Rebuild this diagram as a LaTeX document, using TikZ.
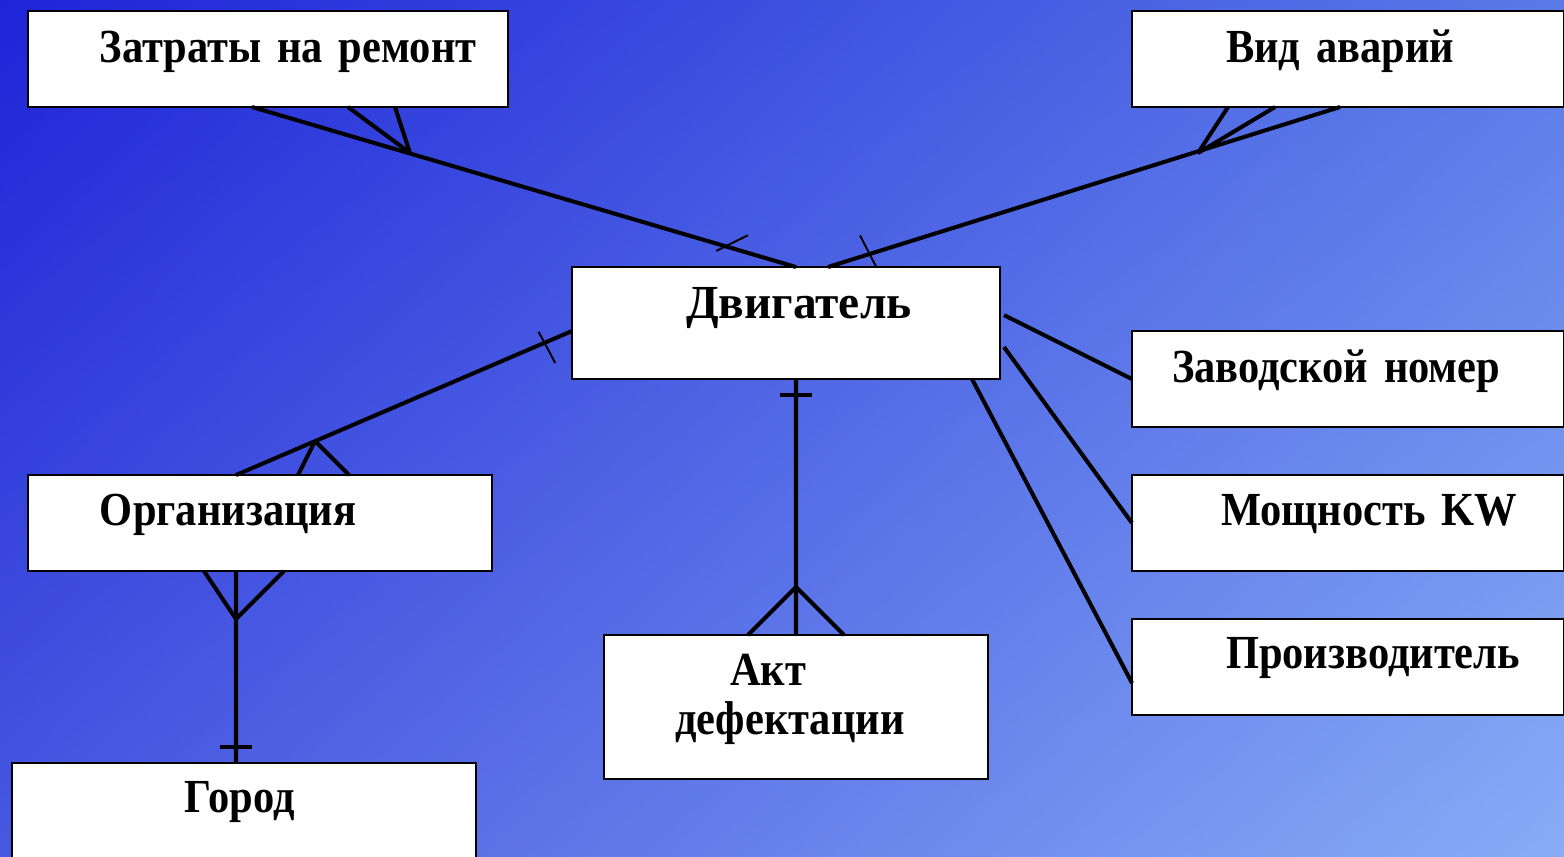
\documentclass[tikz,border=0pt]{standalone}
\usepackage{fontspec}
\setmainfont{Liberation Serif}[FakeStretch=0.895, WordSpace=0.6]
\newfontfamily\widefont{Liberation Serif}[FakeStretch=1.0]
\usetikzlibrary{decorations.markings,shadings}

\definecolor{bgTL}{RGB}{30,36,216}
\definecolor{bgTR}{RGB}{90,122,232}
\definecolor{bgBL}{RGB}{72,88,224}
\definecolor{bgBR}{RGB}{136,172,246}

\begin{document}
\begin{tikzpicture}[
    entity/.style={draw, fill=white, line width=0.65pt, inner sep=0pt, outer sep=0pt,
      anchor=north west, font=\bfseries\fontsize{13.5}{14.2}\selectfont},
    link/.style={line width=1.15pt},
    crossmark/.style n args={5}{postaction={decorate, decoration={markings,
      mark=at position #1 with {\draw[line width=0.55pt] (#2,#3) -- (#4,#5);}}}},
    onebar/.style={postaction={decorate, decoration={markings,
      mark=at position #1 with {\draw (0,-0.16) -- (0,0.16);}}}},
  ]
  \shade[upper left=bgTL, upper right=bgTR, lower left=bgBL, lower right=bgBR]
    (0,0) rectangle (15.64,-8.56);
  \useasboundingbox (0,0) rectangle (15.64,-8.56);

  % entities
  \node[entity, text width=4.80cm, text height=0.51cm, text depth=0.45cm] (zatr) at (0.28,-0.11)
    {\hspace*{0.72cm}Затраты на ремонт};
  \node[entity, text width=4.32cm, text height=0.51cm, text depth=0.45cm] (vid) at (11.32,-0.11)
    {\hspace*{0.94cm}Вид аварий};
  \node[entity, text width=4.28cm, text height=0.51cm, text depth=0.61cm] (dvig) at (5.72,-2.67)
    {\hspace*{1.14cm}\widefont\bfseries Двигатель};
  \node[entity, text width=4.32cm, text height=0.51cm, text depth=0.45cm] (zav) at (11.32,-3.31)
    {\hspace*{0.40cm}Заводской номер};
  \node[entity, text width=4.32cm, text height=0.50cm, text depth=0.46cm] (mosh) at (11.32,-4.75)
    {\hspace*{0.89cm}Мощность KW};
  \node[entity, text width=4.32cm, text height=0.49cm, text depth=0.47cm] (proizv) at (11.32,-6.19)
    {\hspace*{0.94cm}Производитель};
  \node[entity, text width=4.64cm, text height=0.50cm, text depth=0.46cm] (org) at (0.28,-4.75)
    {\hspace*{0.72cm}Организация};
  \node[entity, text width=3.84cm, text height=0.50cm, text depth=0.94cm] (akt) at (6.04,-6.35)
    {\hspace*{1.26cm}Акт\\\hspace*{0.71cm}дефектации};
  \node[entity, text width=4.64cm, text height=0.49cm, text depth=0.51cm] (gorod) at (0.12,-7.63)
    {\hspace*{1.73cm}Город};

  % crow's foot forks
  \coordinate (zatr-fork) at (4.10,-1.53);
  \coordinate (vid-fork) at (11.98,-1.53);
  \coordinate (org-fork) at (3.15,-4.41);
  \coordinate (akt-fork) at (7.96,-5.87);
  \coordinate (org-fork2) at (2.36,-6.19);

  % relationships
  \draw[link, crossmark={0.74cm}{0.07}{0.07}{-0.19}{-0.17}]
    ([xshift=2.24cm]dvig.north west) -- ([xshift=2.24cm]zatr.south west);
  \draw[link] (zatr-fork) -- ([xshift=3.20cm]zatr.south west)
    (zatr-fork) -- ([xshift=3.67cm]zatr.south west);

  \draw[link, crossmark={0.42cm}{-0.02}{0.205}{0.04}{-0.14}]
    ([xshift=2.56cm]dvig.north west) -- ([xshift=2.08cm]vid.south west);
  \draw[link] (vid-fork) -- ([xshift=0.96cm]vid.south west)
    (vid-fork) -- ([xshift=1.43cm]vid.south west);

  \draw[link, crossmark={0.30cm}{0.01}{-0.125}{-0.02}{0.227}]
    ([yshift=-0.64cm]dvig.north west) -- ([xshift=2.08cm]org.north west);
  \draw[link] (org-fork) -- ([xshift=2.70cm]org.north west)
    (org-fork) -- ([xshift=3.21cm]org.north west);

  \draw[link, onebar=0.16cm]
    ([xshift=2.24cm]dvig.south west) -- ([xshift=1.92cm]akt.north west);
  \draw[link] (akt-fork) -- ([xshift=1.44cm]akt.north west)
    (akt-fork) -- ([xshift=2.40cm]akt.north west);

  \draw[link, onebar=-0.16cm]
    ([xshift=2.08cm]org.south west) -- ([xshift=2.24cm]gorod.north west);
  \draw[link] (org-fork2) -- ([xshift=1.76cm]org.south west)
    (org-fork2) -- ([xshift=2.56cm]org.south west);

  % attributes
  \draw[link] ([xshift=0.04cm, yshift=-0.48cm]dvig.north east) -- ([yshift=-0.48cm]zav.north west);
  \draw[link] ([xshift=0.04cm, yshift=-0.80cm]dvig.north east) -- ([yshift=-0.48cm]mosh.north west);
  \draw[link] ([xshift=-0.28cm]dvig.south east) -- ([yshift=-0.64cm]proizv.north west);
\end{tikzpicture}
\end{document}
